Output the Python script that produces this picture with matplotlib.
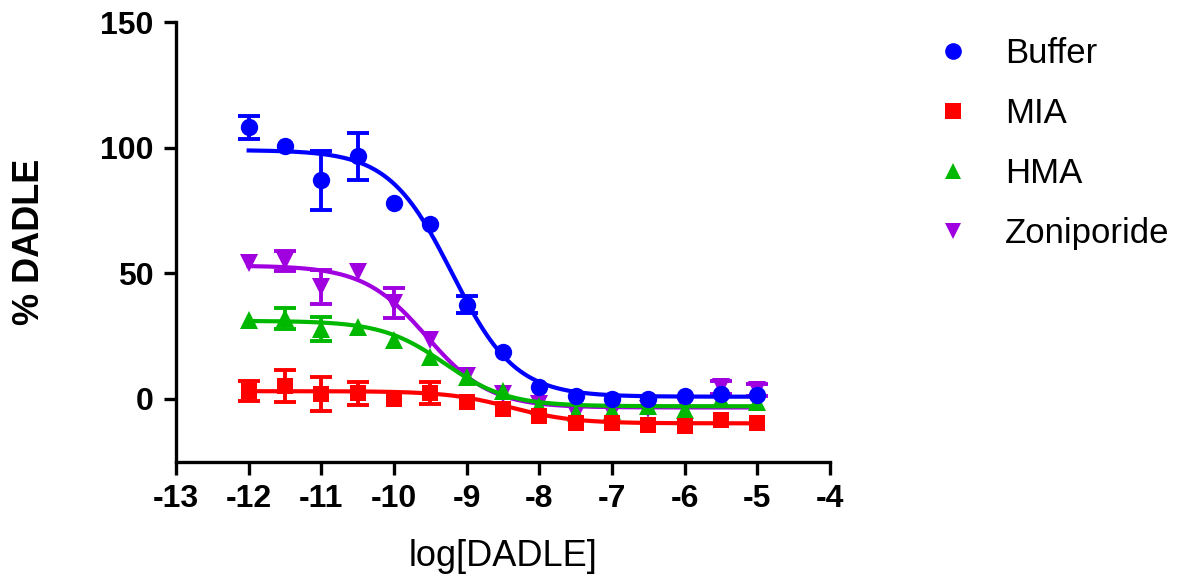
import numpy as np
import matplotlib.pyplot as plt
from matplotlib.lines import Line2D

plt.rcParams['font.family'] = ['Liberation Sans', 'DejaVu Sans']
plt.rcParams['axes.unicode_minus'] = False

# log concentration of DADLE
log_dadle = [-12, -11.5, -11, -10.5, -10, -9.5, -9, -8.5, -8, -7.5, -7, -6.5, -6, -5.5, -5]

# mean % DADLE and SEM for each condition (0 = bar hidden behind marker)
buffer_y = [108, 100.5, 87, 96.5, 78, 69.5, 37.5, 18.5, 4.5, 1, 0, 0, 1, 2, 1.5]
buffer_err = [4.6, 0, 11.8, 9.5, 0, 0, 3.5, 0, 0, 0, 0, 0, 0, 0, 0]

mia_y = [3.2, 5, 2, 2.2, 0, 2.2, -1.5, -3.9, -6.8, -9.5, -9.7, -10.4, -11, -8.3, -9.5]
mia_err = [4, 6.5, 6.8, 4.6, 0, 4.5, 0, 0, 0, 0, 0, 0, 0, 0, 0]

hma_y = [31.2, 32, 27.7, 28.5, 23.5, 16.5, 8.8, 3.2, -3, -5.5, -5, -3, -4.5, 0, -1.5]
hma_err = [0, 4.2, 4.8, 0, 0, 0, 0, 0, 0, 0, 0, 0, 0, 0, 0]

zon_y = [54, 55, 44.5, 50.5, 38, 23.5, 9, 2, -2, -6, -5.5, -4, -3, 4.5, 3.5]
zon_err = [0, 4, 6.7, 0, 6, 0, 0, 0, 0, 0, 0, 0, 0, 2.5, 2.5]

# fitted 4PL parameters: top, bottom, logEC50, hill
buffer_fit = [99, 0.8, -9.2, 1.0]
mia_fit = [3, -9.8, -8.4, 1.0]
hma_fit = [31, -3, -9.3, 1.0]
zon_fit = [53, -3.5, -9.55, 1.0]

series = [
    ("Buffer", buffer_y, buffer_err, buffer_fit, "#0000FF", "o", 12.5, 5),
    ("MIA", mia_y, mia_err, mia_fit, "#FF0000", "s", 11.5, 4),
    ("HMA", hma_y, hma_err, hma_fit, "#00B800", "^", 12.5, 3),
    ("Zoniporide", zon_y, zon_err, zon_fit, "#A000E0", "v", 12.5, 2),
]


def four_pl(x, top, bottom, logec50, hill):
    return bottom + (top - bottom) / (1 + 10 ** ((x - logec50) * hill))


fig = plt.figure(figsize=(11.9, 5.81), dpi=100)
ax = fig.add_axes([176 / 1190, 1 - 461.5 / 581, (830 - 176) / 1190, (461.5 - 22) / 581])

xs = np.array(log_dadle)
xfit = np.linspace(-12, -5, 300)
handles = []
for name, y, err, fit, col, mk, ms, z in series:
    y = np.array(y)
    err = np.array(err)
    has_err = err > 0
    ax.plot(xfit, four_pl(xfit, *fit), color=col, lw=3, zorder=z)
    ax.errorbar(xs[has_err], y[has_err], yerr=err[has_err], fmt='none', ecolor=col,
                elinewidth=2.8, capsize=8, capthick=2.8, zorder=z + 0.3)
    ax.plot(xs, y, ls='none', marker=mk, color=col, ms=ms, mew=0, zorder=z + 0.5)
    handles.append(Line2D([], [], ls='none', marker=mk, color=col, ms=12, mew=0, label=name))

ax.set_xlim(-13, -4)
ax.set_ylim(-25, 150)
ax.set_xticks(range(-13, -3))
ax.set_yticks([0, 50, 100, 150])
for s in ['top', 'right']:
    ax.spines[s].set_visible(False)
for s in ['left', 'bottom']:
    ax.spines[s].set_linewidth(2.4)
ax.tick_params(axis='both', width=2.4, length=9, labelsize=23, pad=7)
for lab in ax.get_xticklabels() + ax.get_yticklabels():
    lab.set_fontweight('bold')

ax.set_xlabel("log[DADLE]", fontsize=26, labelpad=18)
ax.set_ylabel("% DADLE", fontsize=26, fontweight='bold', labelpad=38)

fig.legend(handles=handles, loc='upper left', bbox_to_anchor=(901 / 1190, 1 - 6 / 581),
           frameon=False, fontsize=25, handletextpad=0.9, labelspacing=0.78,
           handlelength=1.2)

fig.savefig("out.png", dpi=100)
